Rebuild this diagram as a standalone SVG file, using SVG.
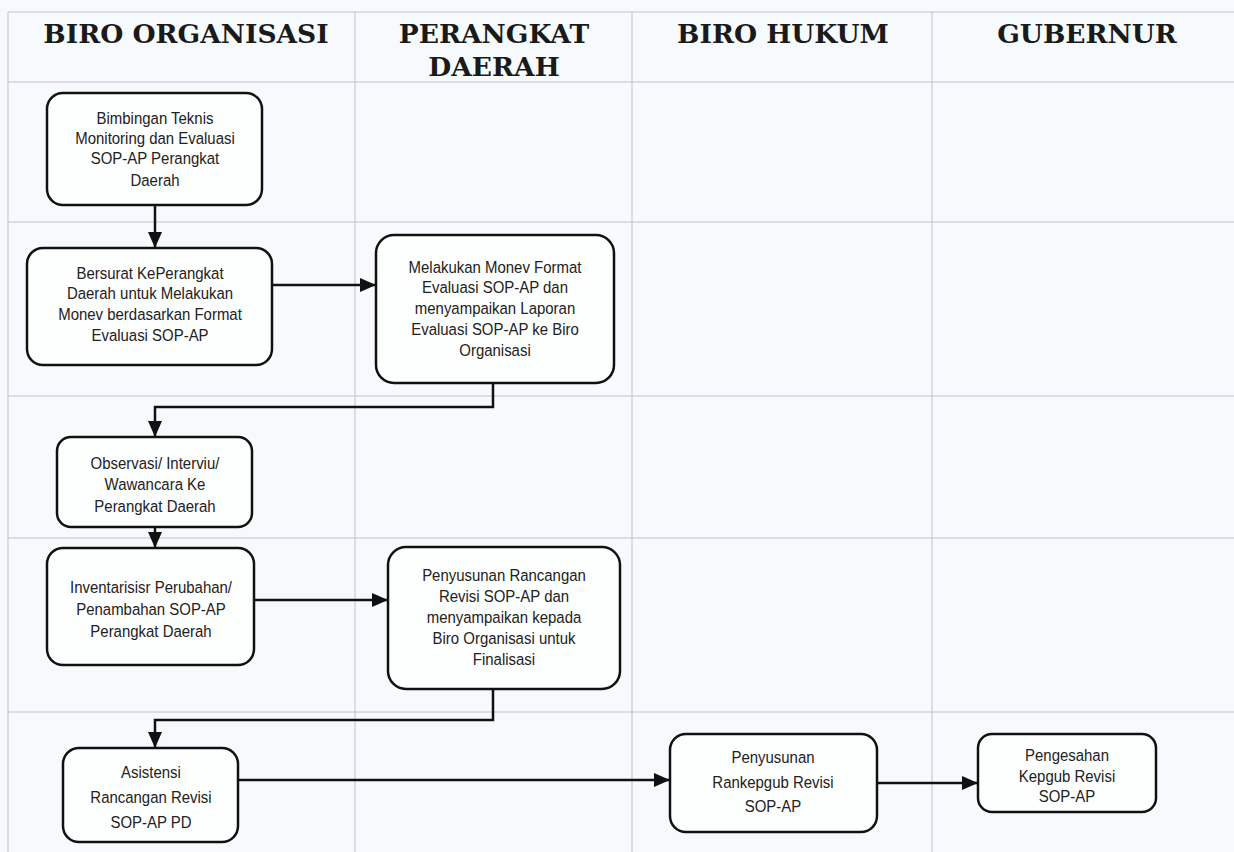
<svg xmlns="http://www.w3.org/2000/svg" width="1234" height="852" viewBox="0 0 1234 852">
<defs>
<marker id="ah" viewBox="0 0 16 14" refX="16" refY="7" markerWidth="16" markerHeight="14" markerUnits="userSpaceOnUse" orient="auto">
<path d="M0,0 L16,7 L0,14 z" fill="#111"/>
</marker>
<style>
.grid{stroke:#bcc0d2;stroke-width:1;fill:none}
.box{fill:#fdfefe;stroke:#111;stroke-width:2.5}
.t{font-family:"Liberation Sans",Arial,sans-serif;font-size:17px;fill:#222;text-anchor:middle}
.h{font-family:"DejaVu Serif","Liberation Serif",serif;font-weight:bold;font-size:26.5px;fill:#1a1a1a;text-anchor:middle}
.c{stroke:#111;stroke-width:2.5;fill:none}
</style>
</defs>
<rect x="0" y="0" width="1234" height="852" fill="#f7fafc"/>
<g id="grid">
<line class="grid" x1="8" y1="12" x2="1234" y2="12"/>
<line class="grid" x1="8" y1="82" x2="1234" y2="82"/>
<line class="grid" x1="8" y1="222" x2="1234" y2="222"/>
<line class="grid" x1="8" y1="396" x2="1234" y2="396"/>
<line class="grid" x1="8" y1="538" x2="1234" y2="538"/>
<line class="grid" x1="8" y1="712" x2="1234" y2="712"/>
<line class="grid" x1="8" y1="12" x2="8" y2="852"/>
<line class="grid" x1="355" y1="12" x2="355" y2="852"/>
<line class="grid" x1="632" y1="12" x2="632" y2="852"/>
<line class="grid" x1="932" y1="12" x2="932" y2="852"/>
</g>
<g id="headers">
<text class="h" x="186" y="43">BIRO ORGANISASI</text>
<text class="h" x="494" y="43">PERANGKAT</text>
<text class="h" x="494" y="76">DAERAH</text>
<text class="h" x="783" y="43">BIRO HUKUM</text>
<text class="h" x="1087" y="43">GUBERNUR</text>
</g>
<g id="connectors">
<line class="c" x1="155" y1="205" x2="155" y2="248" marker-end="url(#ah)"/>
<line class="c" x1="272" y1="285" x2="376" y2="285" marker-end="url(#ah)"/>
<polyline class="c" points="493,383 493,407 155,407 155,437" marker-end="url(#ah)"/>
<line class="c" x1="155" y1="527" x2="155" y2="548" marker-end="url(#ah)"/>
<line class="c" x1="254" y1="600" x2="388" y2="600" marker-end="url(#ah)"/>
<polyline class="c" points="493,689 493,720 155,720 155,748" marker-end="url(#ah)"/>
<line class="c" x1="238" y1="780" x2="670" y2="780" marker-end="url(#ah)"/>
<line class="c" x1="877" y1="783" x2="978" y2="783" marker-end="url(#ah)"/>
</g>
<g id="n1">
<rect class="box" x="47" y="93" width="215" height="112" rx="16"/>
<g transform="translate(155 0) scale(0.88 1)">
<text class="t" x="0" y="124">Bimbingan Teknis</text>
<text class="t" x="0" y="144">Monitoring dan Evaluasi</text>
<text class="t" x="0" y="164">SOP-AP Perangkat</text>
<text class="t" x="0" y="186">Daerah</text>
</g>
</g>
<g id="n2">
<rect class="box" x="27" y="248" width="245" height="117" rx="16"/>
<g transform="translate(150 0) scale(0.88 1)">
<text class="t" x="0" y="279">Bersurat KePerangkat</text>
<text class="t" x="0" y="299">Daerah untuk Melakukan</text>
<text class="t" x="0" y="320">Monev berdasarkan Format</text>
<text class="t" x="0" y="341">Evaluasi SOP-AP</text>
</g>
</g>
<g id="n3">
<rect class="box" x="376" y="235" width="238" height="148" rx="18"/>
<g transform="translate(495 0) scale(0.88 1)">
<text class="t" x="0" y="273">Melakukan Monev Format</text>
<text class="t" x="0" y="293">Evaluasi SOP-AP dan</text>
<text class="t" x="0" y="314">menyampaikan Laporan</text>
<text class="t" x="0" y="335">Evaluasi SOP-AP ke Biro</text>
<text class="t" x="0" y="356">Organisasi</text>
</g>
</g>
<g id="n4">
<rect class="box" x="57" y="437" width="195" height="90" rx="14"/>
<g transform="translate(155 0) scale(0.88 1)">
<text class="t" x="0" y="469">Observasi/ Interviu/</text>
<text class="t" x="0" y="490">Wawancara Ke</text>
<text class="t" x="0" y="512">Perangkat Daerah</text>
</g>
</g>
<g id="n5">
<rect class="box" x="47" y="548" width="207" height="117" rx="16"/>
<g transform="translate(151 0) scale(0.88 1)">
<text class="t" x="0" y="593">Inventarisisr Perubahan/</text>
<text class="t" x="0" y="615">Penambahan SOP-AP</text>
<text class="t" x="0" y="637">Perangkat Daerah</text>
</g>
</g>
<g id="n6">
<rect class="box" x="388" y="547" width="232" height="142" rx="18"/>
<g transform="translate(504 0) scale(0.88 1)">
<text class="t" x="0" y="581">Penyusunan Rancangan</text>
<text class="t" x="0" y="602">Revisi SOP-AP dan</text>
<text class="t" x="0" y="623">menyampaikan kepada</text>
<text class="t" x="0" y="644">Biro Organisasi untuk</text>
<text class="t" x="0" y="665">Finalisasi</text>
</g>
</g>
<g id="n7">
<rect class="box" x="63" y="748" width="175" height="94" rx="16"/>
<g transform="translate(151 0) scale(0.88 1)">
<text class="t" x="0" y="778">Asistensi</text>
<text class="t" x="0" y="803">Rancangan Revisi</text>
<text class="t" x="0" y="828">SOP-AP PD</text>
</g>
</g>
<g id="n8">
<rect class="box" x="670" y="734" width="207" height="98" rx="16"/>
<g transform="translate(773 0) scale(0.88 1)">
<text class="t" x="0" y="763">Penyusunan</text>
<text class="t" x="0" y="788">Rankepgub Revisi</text>
<text class="t" x="0" y="812">SOP-AP</text>
</g>
</g>
<g id="n9">
<rect class="box" x="978" y="734" width="178" height="78" rx="14"/>
<g transform="translate(1067 0) scale(0.88 1)">
<text class="t" x="0" y="761">Pengesahan</text>
<text class="t" x="0" y="782">Kepgub Revisi</text>
<text class="t" x="0" y="802">SOP-AP</text>
</g>
</g>
</svg>
